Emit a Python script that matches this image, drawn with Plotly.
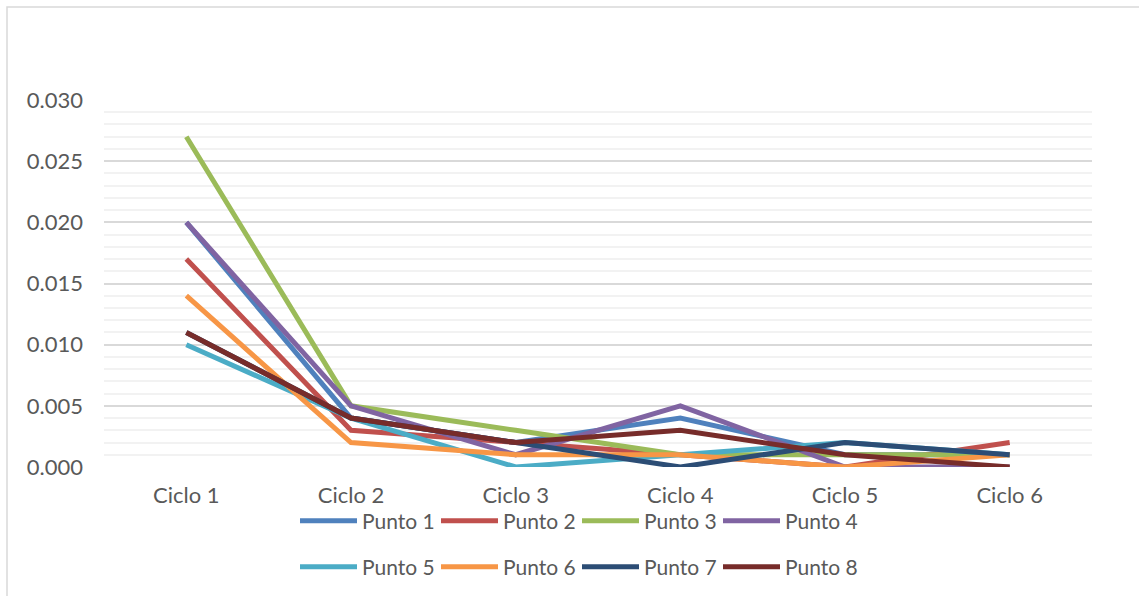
import plotly.graph_objects as go

categories = ["Ciclo 1", "Ciclo 2", "Ciclo 3", "Ciclo 4", "Ciclo 5", "Ciclo 6"]
series_names = ["Punto 1", "Punto 2", "Punto 3", "Punto 4",
                "Punto 5", "Punto 6", "Punto 7", "Punto 8"]
punto1 = [0.020, 0.004, 0.002, 0.004, 0.001, 0.001]
punto2 = [0.017, 0.003, 0.002, 0.001, 0.000, 0.002]
punto3 = [0.027, 0.005, 0.003, 0.001, 0.001, 0.001]
punto4 = [0.020, 0.005, 0.001, 0.005, 0.000, 0.000]
punto5 = [0.010, 0.004, 0.000, 0.001, 0.002, 0.001]
punto6 = [0.014, 0.002, 0.001, 0.001, 0.000, 0.001]
punto7 = [0.011, 0.004, 0.002, 0.000, 0.002, 0.001]
punto8 = [0.011, 0.004, 0.002, 0.003, 0.001, 0.000]
series_values = [punto1, punto2, punto3, punto4, punto5, punto6, punto7, punto8]
colors = ["#4F81BD", "#C0504D", "#9BBB59", "#8064A2",
          "#4BACC6", "#F79646", "#2C4D75", "#772C2A"]
y_ticks = [0.000, 0.005, 0.010, 0.015, 0.020, 0.025, 0.030]

FONT = "Lato"
TXT = "#595959"

W, H = 1139, 596
L, R, T, B = 104, 47, 100, 129
pw, ph = W - L - R, H - T - B

def px_x(x):
    return (x - L) / pw

def px_y(y):
    return (H - B - y) / ph

fig = go.Figure()
for i, (name, vals, c) in enumerate(zip(series_names, series_values, colors)):
    fig.add_trace(go.Scatter(
        x=categories, y=vals, name=name, mode="lines",
        line=dict(color=c, width=5),
        legend="legend" if i < 4 else "legend2",
    ))

legend_common = dict(
    orientation="h", xanchor="left", yanchor="middle", yref="container",
    entrywidth=69, entrywidthmode="pixels", itemwidth=57,
    font=dict(family=FONT, size=21, color=TXT),
    bgcolor="rgba(0,0,0,0)", itemclick=False,
)

fig.update_layout(
    width=W, height=H,
    margin=dict(l=L, r=R, t=T, b=B, pad=0, autoexpand=False),
    paper_bgcolor="white", plot_bgcolor="white",
    font=dict(family=FONT, size=21, color=TXT),
    xaxis=dict(range=[-0.5, 5.5], showgrid=False, zeroline=False,
               showline=False, ticks="", tickfont=dict(size=22, color=TXT),
               ticklabelstandoff=13),
    yaxis=dict(range=[0, 0.030], tickvals=y_ticks, tickformat=".3f",
               showgrid=True, gridcolor="#D9D9D9", gridwidth=1.5,
               minor=dict(dtick=0.001, showgrid=True, gridcolor="#F2F2F2", gridwidth=1.5),
               zeroline=False, showline=False, ticks="",
               tickfont=dict(size=22, color=TXT), ticklabelstandoff=20),
    legend=dict(x=px_x(295), y=1 - 521 / H, **legend_common),
    legend2=dict(x=px_x(295), y=1 - 567 / H, **legend_common),
    showlegend=True,
    shapes=[dict(type="rect", xref="paper", yref="paper",
                 x0=px_x(7), x1=px_x(1200), y0=px_y(700), y1=px_y(7),
                 line=dict(color="#D9D9D9", width=1.5), layer="below")],
)

fig.write_html("out.html")
